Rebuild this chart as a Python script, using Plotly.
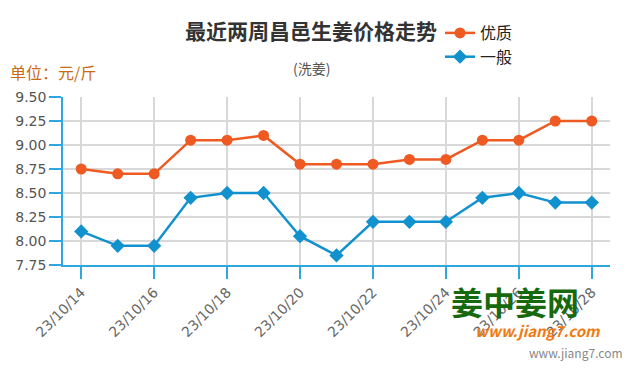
import plotly.graph_objects as go

dates = ["23/10/14", "23/10/15", "23/10/16", "23/10/17", "23/10/18", "23/10/19", "23/10/20",
         "23/10/21", "23/10/22", "23/10/23", "23/10/24", "23/10/25", "23/10/26", "23/10/27", "23/10/28"]
premium = [8.75, 8.70, 8.70, 9.05, 9.05, 9.10, 8.80, 8.80, 8.80, 8.85, 8.85, 9.05, 9.05, 9.25, 9.25]
normal = [8.10, 7.95, 7.95, 8.45, 8.50, 8.50, 8.05, 7.85, 8.20, 8.20, 8.20, 8.45, 8.50, 8.40, 8.40]
tick_labels = dates[::2]
y_ticks = [7.75, 8.00, 8.25, 8.50, 8.75, 9.00, 9.25, 9.50]

ORANGE = "#EE5A22"
BLUE = "#1191CE"
AXIS = "#2EA7E0"
FONT = "Noto Sans CJK SC"

fig = go.Figure()
fig.add_trace(go.Scatter(x=dates, y=premium, name="优质", mode="lines+markers",
                         line=dict(color=ORANGE, width=2.5),
                         marker=dict(symbol="circle", size=11, color=ORANGE)))
fig.add_trace(go.Scatter(x=dates, y=normal, name="一般", mode="lines+markers",
                         line=dict(color=BLUE, width=2.5),
                         marker=dict(symbol="diamond", size=11, color=BLUE)))

fig.update_layout(
    width=635, height=375,
    margin=dict(l=63, r=25, t=97, b=110, autoexpand=False),
    plot_bgcolor="white", paper_bgcolor="white",
    font=dict(family=FONT, color="#444"),
    showlegend=True,
    legend=dict(x=440 / 635, y=1 - 16 / 375, xref="container", yref="container",
                xanchor="left", yanchor="top",
                font=dict(size=16, color="#222"),
                bgcolor="rgba(0,0,0,0)", tracegroupgap=0, itemwidth=30),
    xaxis=dict(type="category", tickmode="array", tickvals=tick_labels, ticktext=tick_labels,
               tickangle=-45, tickfont=dict(size=14, color="#666", family="DejaVu Sans"),
               showgrid=True, gridcolor="#D8D8D8", gridwidth=1.5,
               showline=True, linecolor=AXIS, linewidth=1.5,
               ticks="outside", ticklen=12, tickcolor=AXIS, tickwidth=1.5,
               range=[-0.5, 14.5], automargin=False),
    yaxis=dict(range=[7.75, 9.5], tickmode="array", tickvals=y_ticks,
               ticktext=[f"{v:.2f}" for v in y_ticks],
               tickfont=dict(size=14, color="#555", family="DejaVu Sans"),
               showgrid=True, gridcolor="#D8D8D8", gridwidth=1.5,
               showline=True, linecolor=AXIS, linewidth=1.5,
               ticks="outside", ticklen=12, tickcolor=AXIS, tickwidth=1.5,
               zeroline=False, automargin=False),
)

W0, W1, H0, H1 = 63, 610, 97, 265
annos = [
    dict(text="<b>最近两周昌邑生姜价格走势</b>", px=311, py=30, size=21, color="#333"),
    dict(text="(洗姜)", px=311, py=68, size=14, color="#555"),
    dict(text="单位：元/斤", px=8, py=72, size=16, color="#CC6A14", anchor="left"),
    dict(text="<b>姜中姜网</b>", px=515, py=301, size=32, color="#17690E"),
    dict(text="<b><i>www.jiang7.com</i></b>", px=538, py=330, size=15, color="#F07A10"),
    dict(text="www.jiang7.com", px=576, py=352, size=12, color="#888"),
]
for a in annos:
    fig.add_annotation(text=a["text"], x=(a["px"] - W0) / (W1 - W0), y=(H1 - a["py"]) / (H1 - H0),
                       xref="paper", yref="paper", showarrow=False,
                       xanchor=a.get("anchor", "center"), yanchor="middle",
                       font=dict(size=a["size"], color=a["color"], family=FONT))

fig.write_html("out.html", config={"displayModeBar": False},
               post_script="document.body.style.margin='0';")
